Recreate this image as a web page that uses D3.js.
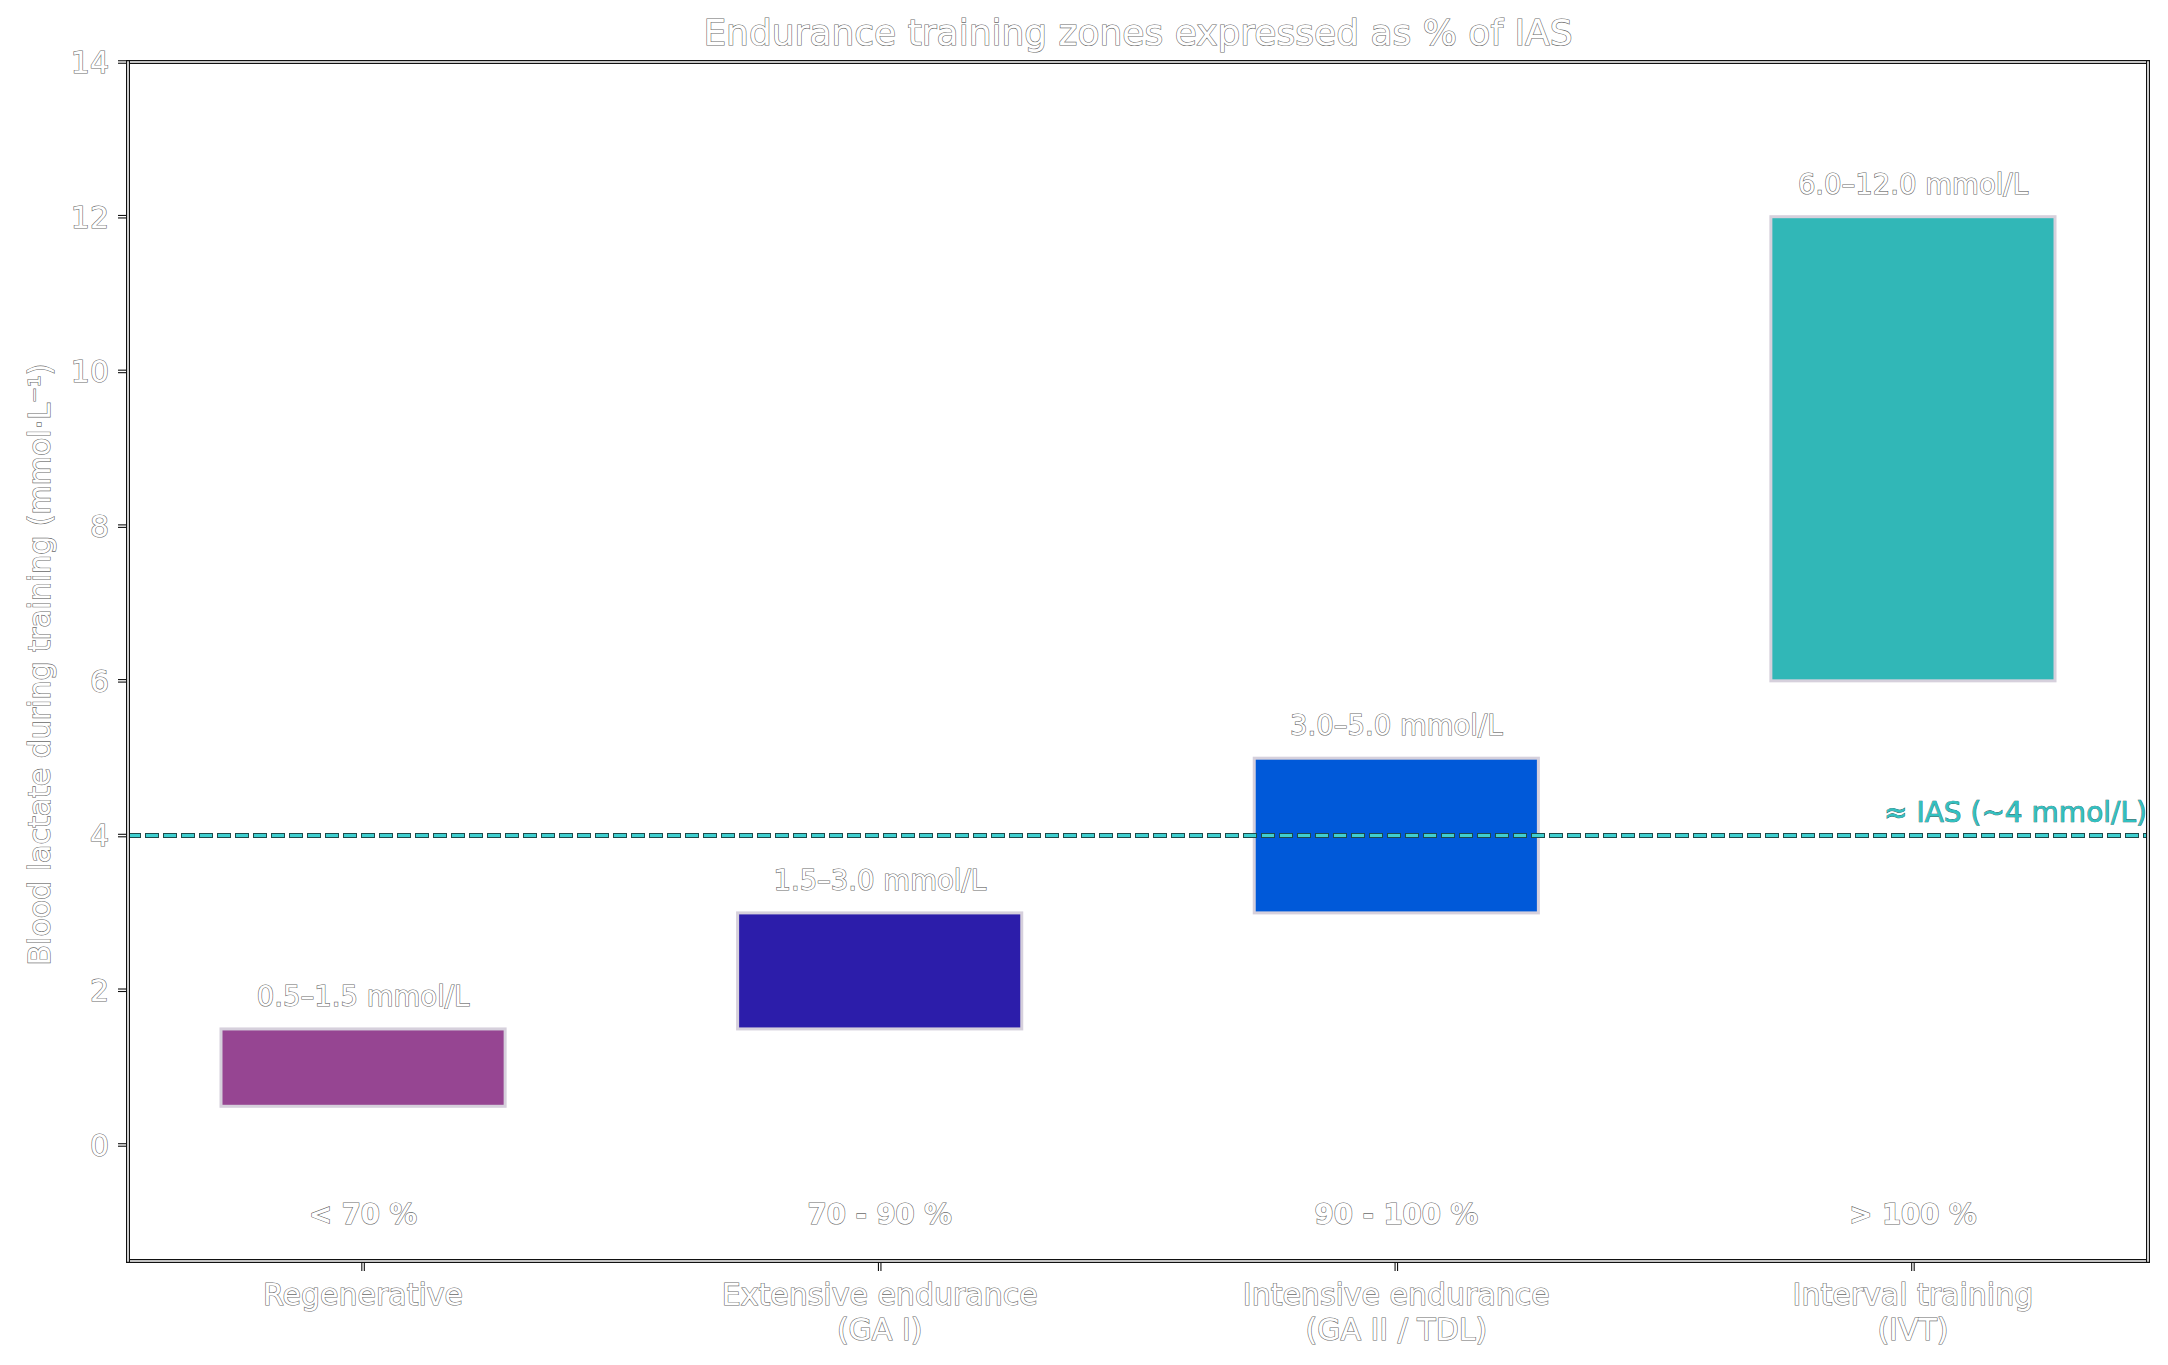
<!DOCTYPE html>
<html>
<head>
<meta charset="utf-8">
<script src="https://cdn.jsdelivr.net/npm/d3@7"></script>
<style>
  body { margin: 0; background: #fff; }
  text { font-family: "DejaVu Sans", sans-serif; }
  .ghost { fill: #fff; stroke: #6a6a6a; stroke-width: 1.2px; paint-order: stroke fill; }
</style>
</head>
<body>
<div id="chart"></div>
<script>
// zone data
var zones = ["Regenerative", "Extensive endurance\n(GA I)", "Intensive endurance\n(GA II / TDL)", "Interval training\n(IVT)"];
var lactLow = [0.5, 1.5, 3.0, 6.0];
var lactHigh = [1.5, 3.0, 5.0, 12.0];
var rangeLabels = ["0.5–1.5 mmol/L", "1.5–3.0 mmol/L", "3.0–5.0 mmol/L", "6.0–12.0 mmol/L"];
var pctLabels = ["< 70 %", "70 - 90 %", "90 - 100 %", "> 100 %"];
var zoneColors = ["#964592", "#2c1daa", "#0059d9", "#31b7b7"];
var iasValue = 4;
var yTicks = [0, 2, 4, 6, 8, 10, 12, 14];

var W = 2168, H = 1365;
var margin = { top: 62, right: 20, bottom: 104, left: 128 };
var width = W - margin.left - margin.right,
    height = H - margin.top - margin.bottom;

var svg = d3.select("#chart").append("svg")
    .attr("width", W)
    .attr("height", H);

var g = svg.append("g")
    .attr("transform", "translate(" + margin.left + "," + margin.top + ")");

var x = d3.scaleLinear().domain([-0.455, 3.455]).range([0, width]);
var y = d3.scaleLinear().domain([-1.5, 14]).range([height, 0]);
var barW = 0.55;

// bars
g.selectAll("rect.zone")
    .data(zones)
    .enter()
    .append("rect")
    .attr("class", "zone")
    .attr("x", function(d, i) { return x(i - barW / 2); })
    .attr("y", function(d, i) { return y(lactHigh[i]); })
    .attr("width", x(barW) - x(0))
    .attr("height", function(d, i) { return y(lactLow[i]) - y(lactHigh[i]); })
    .attr("fill", function(d, i) { return zoneColors[i]; })
    .attr("stroke", "#d6d0dc")
    .attr("stroke-width", 3);

// IAS reference line
var iasY = y(iasValue);
g.append("line")
    .attr("x1", 0).attr("x2", width)
    .attr("y1", iasY).attr("y2", iasY)
    .attr("stroke", "#1d4a4a")
    .attr("stroke-width", 5)
    .attr("stroke-dasharray", "14,4")
    .attr("stroke-dashoffset", 1);
g.append("line")
    .attr("x1", 0).attr("x2", width)
    .attr("y1", iasY).attr("y2", iasY)
    .attr("stroke", "#3fcfd0")
    .attr("stroke-width", 3)
    .attr("stroke-dasharray", "12,6");

g.append("text")
    .attr("x", width - 1)
    .attr("y", iasY - 14)
    .attr("text-anchor", "end")
    .attr("font-size", "28px")
    .attr("fill", "#33c0c0")
    .attr("stroke", "#1b5b5b")
    .attr("stroke-width", 0.7)
    .attr("paint-order", "stroke fill")
    .text("≈ IAS (~4 mmol/L)");

// range labels
g.selectAll("text.range")
    .data(rangeLabels)
    .enter()
    .append("text")
    .attr("class", "range ghost")
    .attr("x", function(d, i) { return x(i); })
    .attr("y", function(d, i) { return y(lactHigh[i] + 0.3); })
    .attr("text-anchor", "middle")
    .attr("font-size", "27.5px")
    .text(function(d) { return d; });

// percent labels
g.selectAll("text.pct")
    .data(pctLabels)
    .enter()
    .append("text")
    .attr("class", "pct ghost")
    .attr("x", function(d, i) { return x(i); })
    .attr("y", y(-0.9))
    .attr("dy", "0.35em")
    .attr("text-anchor", "middle")
    .attr("font-size", "27.5px")
    .attr("font-weight", "bold")
    .text(function(d) { return d; });

// spines: black outline, white core
function spine(x1, y1, x2, y2) {
    g.append("line").attr("x1", x1).attr("y1", y1).attr("x2", x2).attr("y2", y2)
        .attr("stroke", "#111").attr("stroke-width", 4).attr("stroke-linecap", "square");
    g.append("line").attr("x1", x1).attr("y1", y1).attr("x2", x2).attr("y2", y2)
        .attr("stroke", "#fff").attr("stroke-width", 1.6).attr("stroke-linecap", "square");
}

// ticks
function tick(x1, y1, x2, y2) {
    g.append("line").attr("x1", x1).attr("y1", y1).attr("x2", x2).attr("y2", y2)
        .attr("stroke", "#111").attr("stroke-width", 3.6);
    g.append("line").attr("x1", x1).attr("y1", y1).attr("x2", x2).attr("y2", y2)
        .attr("stroke", "#fff").attr("stroke-width", 1.4);
}

yTicks.forEach(function(t) {
    tick(-10, y(t), 0, y(t));
    g.append("text")
        .attr("class", "ghost")
        .attr("x", -19)
        .attr("y", y(t))
        .attr("dy", "0.36em")
        .attr("text-anchor", "end")
        .attr("font-size", "30px")
        .text(t);
});

zones.forEach(function(z, i) {
    tick(x(i), height, x(i), height + 10);
    var t = g.append("text")
        .attr("class", "ghost")
        .attr("x", x(i))
        .attr("y", height + 44)
        .attr("text-anchor", "middle")
        .attr("font-size", "30px");
    z.split("\n").forEach(function(line, k) {
        t.append("tspan")
            .attr("x", x(i))
            .attr("dy", k === 0 ? 0 : 35)
            .text(line);
    });
});

spine(0, 0, width, 0);
spine(0, height, width, height);
spine(0, 0, 0, height);
spine(width, 0, width, height);

// y axis label
g.append("text")
    .attr("class", "ghost")
    .attr("transform", "translate(" + (39 - margin.left) + "," + (height / 2 + 3) + ") rotate(-90)")
    .attr("dy", "0.35em")
    .attr("text-anchor", "middle")
    .attr("font-size", "30px")
    .text("Blood lactate during training (mmol·L⁻¹)");

// title
svg.append("text")
    .attr("class", "ghost")
    .attr("x", margin.left + width / 2)
    .attr("y", 45)
    .attr("text-anchor", "middle")
    .attr("font-size", "36px")
    .text("Endurance training zones expressed as % of IAS");
</script>
</body>
</html>
